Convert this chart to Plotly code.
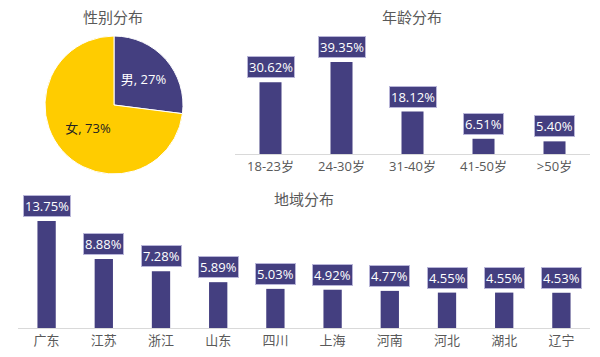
import plotly.graph_objects as go

# the page body adds an 8px margin; lay out in window pixels and compensate
OFF = 8
W, H = 600 - OFF, 357 - OFF

gender_labels = ["男", "女"]
gender_values = [27, 73]

age_cats = ["18-23岁", "24-30岁", "31-40岁", "41-50岁", ">50岁"]
age_vals = [30.62, 39.35, 18.12, 6.51, 5.40]

region_cats = ["广东", "江苏", "浙江", "山东", "四川", "上海", "河南", "河北", "湖北", "辽宁"]
region_vals = [13.75, 8.88, 7.28, 5.89, 5.03, 4.92, 4.77, 4.55, 4.55, 4.53]

PURPLE = "#443F80"
YELLOW = "#FFCC00"
GRAY = "#595959"
FONT = "Open Sans, Noto Sans CJK SC, sans-serif"


def px_x(p):
    return (p - OFF) / W


def px_y(p):
    return (H - (p - OFF)) / H


fig = go.Figure()

# Pie
fig.add_trace(go.Pie(
    labels=gender_labels,
    values=gender_values,
    sort=False,
    direction="clockwise",
    rotation=0,
    marker=dict(colors=[PURPLE, YELLOW], line=dict(color="white", width=1)),
    texttemplate="%{label}, %{value}%",
    textposition="inside",
    insidetextorientation="horizontal",
    textfont=dict(family=FONT, size=13, color=["white", "#222222"]),
    domain=dict(x=[px_x(45), px_x(183)], y=[px_y(174), px_y(36)]),
    showlegend=False,
    hoverinfo="skip",
    automargin=False,
))

# Age bars
fig.add_trace(go.Bar(
    x=age_cats, y=age_vals, marker=dict(color=PURPLE, line=dict(width=0)),
    width=0.31, xaxis="x", yaxis="y", showlegend=False, hoverinfo="skip",
))

# Region bars
fig.add_trace(go.Bar(
    x=region_cats, y=region_vals, marker=dict(color=PURPLE, line=dict(width=0)),
    width=0.32, xaxis="x2", yaxis="y2", showlegend=False, hoverinfo="skip",
))

annotations = []
for c, v in zip(age_cats, age_vals):
    annotations.append(dict(
        x=c, y=v, xref="x", yref="y", text=f"{v:.2f}%", showarrow=False,
        yanchor="bottom", yshift=4, bgcolor=PURPLE, bordercolor="#B8B5D8",
        borderwidth=1, borderpad=1, font=dict(family=FONT, size=13, color="white"),
    ))
for c, v in zip(region_cats, region_vals):
    annotations.append(dict(
        x=c, y=v, xref="x2", yref="y2", text=f"{v:.2f}%", showarrow=False,
        yanchor="bottom", yshift=4, bgcolor=PURPLE, bordercolor="#B8B5D8",
        borderwidth=1, borderpad=1, font=dict(family=FONT, size=13, color="white"),
    ))

titles = [("性别分布", 113, 17), ("年龄分布", 412, 17), ("地域分布", 304, 199)]
for t, x, y in titles:
    annotations.append(dict(
        x=px_x(x), y=px_y(y), xref="paper", yref="paper", text=t, showarrow=False,
        xanchor="center", yanchor="middle", font=dict(family=FONT, size=15, color=GRAY),
    ))

axis_common = dict(
    showgrid=False, zeroline=False, ticks="", showline=True, linecolor="#D9D9D9",
    linewidth=1, tickfont=dict(family=FONT, size=13, color=GRAY), automargin=False,
)

fig.update_layout(
    width=W, height=H,
    margin=dict(l=0, r=0, t=0, b=0),
    paper_bgcolor="white", plot_bgcolor="white",
    font=dict(family=FONT),
    xaxis=dict(domain=[px_x(235), px_x(590)], anchor="y", **axis_common),
    yaxis=dict(domain=[px_y(154), px_y(40)], range=[0, 114 / 2.34], visible=False,
               anchor="x", automargin=False),
    xaxis2=dict(domain=[px_x(18), px_x(590)], anchor="y2", **axis_common),
    yaxis2=dict(domain=[px_y(328), px_y(195)], range=[0, 133 / 7.78], visible=False,
                anchor="x2", automargin=False),
    annotations=annotations,
)

fig.write_html("out.html")
